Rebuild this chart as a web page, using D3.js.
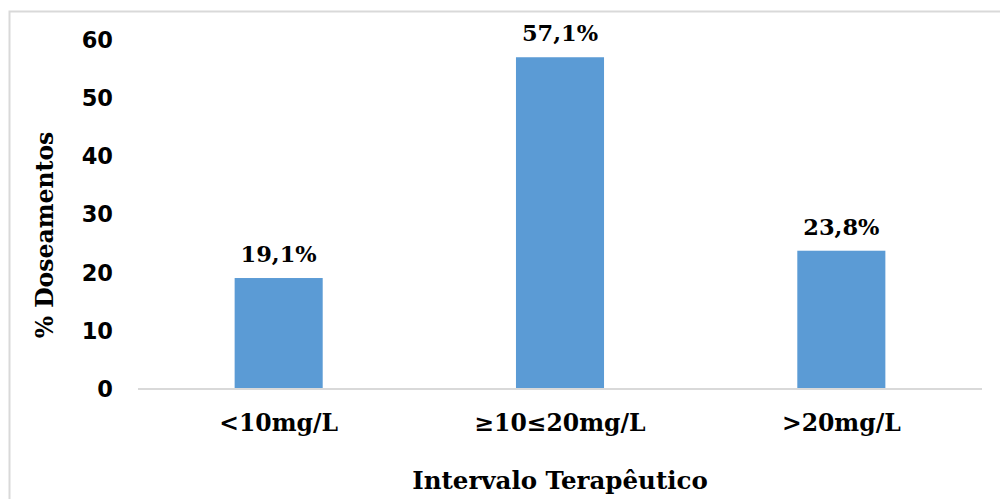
<!DOCTYPE html>
<html>
<head>
<meta charset="utf-8">
<script src="https://cdn.jsdelivr.net/npm/d3@7"></script>
<style>
  body { margin: 0; background: #fff; }
  svg { display: block; }
</style>
</head>
<body>
<div id="chart"></div>
<script>
// data
const categories = ["<10mg/L", "\u226510\u226420mg/L", ">20mg/L"];
const values = [19.1, 57.1, 23.8];
const labels = ["19,1%", "57,1%", "23,8%"];
const yTicks = [0, 10, 20, 30, 40, 50, 60];

const width = 1000, height = 499;
const margin = { top: 40, right: 18, bottom: 110, left: 138 };

const svg = d3.select("#chart").append("svg")
  .attr("width", width)
  .attr("height", height);

// outer frame
svg.append("rect")
  .attr("x", 9.5).attr("y", 11.5)
  .attr("width", 1000).attr("height", 500)
  .attr("fill", "none")
  .attr("stroke", "#d9d9d9")
  .attr("stroke-width", 2);

const x = d3.scaleBand()
  .domain(categories)
  .range([margin.left, width - margin.right])
  .paddingInner(0.687)
  .paddingOuter(0.3435);

const y = d3.scaleLinear()
  .domain([0, 60])
  .range([height - margin.bottom, margin.top + 0.4]);

// bars
svg.selectAll("rect.bar")
  .data(values)
  .enter()
  .append("rect")
  .attr("class", "bar")
  .attr("x", (d, i) => x(categories[i]))
  .attr("y", d => y(d))
  .attr("width", x.bandwidth())
  .attr("height", d => y(0) - y(d))
  .attr("fill", "#5b9bd5");

// baseline
svg.append("line")
  .attr("x1", margin.left).attr("x2", width - margin.right)
  .attr("y1", y(0)).attr("y2", y(0))
  .attr("stroke", "#d9d9d9")
  .attr("stroke-width", 2);

// y axis labels (no line, no ticks)
const yAxis = svg.append("g")
  .attr("transform", "translate(" + (margin.left - 25) + ",0)")
  .call(d3.axisLeft(y).tickValues(yTicks).tickSize(0).tickPadding(0));
yAxis.select(".domain").remove();
yAxis.selectAll("text")
  .attr("font-family", "'DejaVu Sans', Verdana, sans-serif")
  .attr("font-weight", "bold")
  .attr("font-size", 22.5)
  .attr("fill", "#000");

// x axis labels
const xAxis = svg.append("g")
  .attr("transform", "translate(0," + y(0) + ")")
  .call(d3.axisBottom(x).tickSize(0).tickPadding(25));
xAxis.select(".domain").remove();
xAxis.selectAll("text")
  .attr("font-family", "'DejaVu Serif', Georgia, serif")
  .attr("font-weight", "bold")
  .attr("font-size", 23.5)
  .attr("fill", "#000");

// value labels
svg.selectAll("text.val")
  .data(values)
  .enter()
  .append("text")
  .attr("class", "val")
  .attr("x", (d, i) => x(categories[i]) + x.bandwidth() / 2)
  .attr("y", d => y(d) - 16)
  .attr("text-anchor", "middle")
  .attr("font-family", "'DejaVu Serif', Georgia, serif")
  .attr("font-weight", "bold")
  .attr("font-size", 22.5)
  .text((d, i) => labels[i]);

// axis titles
svg.append("text")
  .attr("x", (margin.left + width - margin.right) / 2)
  .attr("y", 489)
  .attr("text-anchor", "middle")
  .attr("font-family", "'DejaVu Serif', Georgia, serif")
  .attr("font-weight", "bold")
  .attr("font-size", 24.5)
  .text("Intervalo Terapêutico");

svg.append("text")
  .attr("transform", "translate(53,235) rotate(-90)")
  .attr("text-anchor", "middle")
  .attr("font-family", "'DejaVu Serif', Georgia, serif")
  .attr("font-weight", "bold")
  .attr("font-size", 23.5)
  .text("% Doseamentos");
</script>
</body>
</html>
